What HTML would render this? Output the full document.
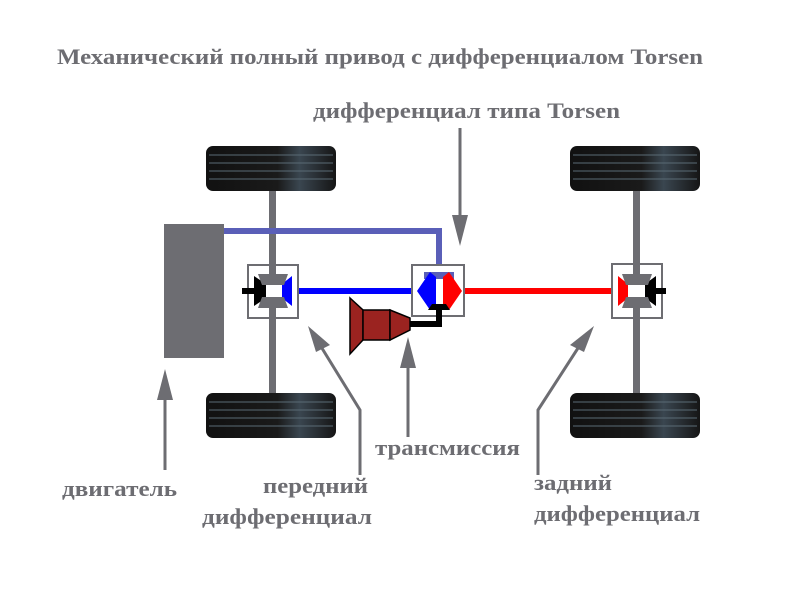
<!DOCTYPE html>
<html><head><meta charset="utf-8"><style>
body{margin:0;background:#fff}
svg{display:block}
text{font-family:"Liberation Serif","DejaVu Serif",serif;font-weight:bold;fill:#6d6d72}
</style></head><body>
<svg width="800" height="600" viewBox="0 0 800 600">
<defs>
<linearGradient id="tg" x1="0" x2="1"><stop offset="0" stop-color="#111"/><stop offset="0.55" stop-color="#1a1a1a"/><stop offset="0.72" stop-color="#3a4650"/><stop offset="1" stop-color="#151515"/></linearGradient>
<g id="tire"><rect x="0" y="0" width="130" height="45" rx="7" fill="url(#tg)"/>
<g stroke="#5a6b75" stroke-width="1"><line x1="3" y1="9" x2="127" y2="9"/><line x1="3" y1="17" x2="127" y2="17"/><line x1="3" y1="25" x2="127" y2="25"/><line x1="3" y1="33" x2="127" y2="33"/></g></g>
</defs>
<text x="57" y="64" font-size="22" textLength="646" lengthAdjust="spacingAndGlyphs">Механический полный привод с дифференциалом Torsen</text>
<text x="313" y="118" font-size="22" textLength="307" lengthAdjust="spacingAndGlyphs">дифференциал типа Torsen</text>
<!-- axles -->
<rect x="269" y="185" width="7" height="215" fill="#6d6d72"/>
<rect x="633" y="185" width="7" height="215" fill="#6d6d72"/>
<use href="#tire" x="206" y="146"/>
<use href="#tire" x="206" y="393"/>
<use href="#tire" x="570" y="146"/>
<use href="#tire" x="570" y="393"/>
<!-- engine -->
<rect x="164" y="224" width="60" height="134" fill="#6d6d72"/>
<polyline points="224,231 439,231 439,272" fill="none" stroke="#5a5fb8" stroke-width="6"/>
<!-- shafts -->
<rect x="290" y="288" width="130" height="6" fill="#0000ff"/>
<rect x="460" y="288" width="160" height="6" fill="#ff0000"/>
<!-- front diff -->
<rect x="248" y="265" width="50" height="53" fill="#fff" stroke="#6d6d72" stroke-width="2"/>
<rect x="269" y="265" width="7" height="53" fill="#6d6d72"/>
<rect x="242" y="288" width="12" height="6" fill="#000"/>
<polygon points="254,276 266,284 266,298 254,306" fill="#000"/>
<polygon points="292,276 282,284 282,298 292,306" fill="#0000ff"/>
<polygon points="258,274 288,274 284,285 262,285" fill="#6d6d72"/>
<polygon points="262,297 284,297 288,308 258,308" fill="#6d6d72"/>
<rect x="266" y="285" width="16" height="12" fill="#fff"/>
<!-- center diff -->
<rect x="412" y="265" width="52" height="51" fill="#fff" stroke="#6d6d72" stroke-width="2"/>
<rect x="424" y="272" width="30" height="7" fill="#5a5fb8"/>
<polygon points="430,272 417,291 430,310 436,305 436,277" fill="#0000ff"/>
<polygon points="449,272 462,291 449,310 443,305 443,277" fill="#ff0000"/>
<polygon points="428,310 450,310 446,304 432,304" fill="#000"/>
<polyline points="439,310 439,324 410,324" fill="none" stroke="#000" stroke-width="6"/>
<!-- transmission -->
<polygon points="350,298 363,310 363,340 350,354" fill="#9b2320" stroke="#000" stroke-width="1.5"/>
<rect x="363" y="310" width="27" height="30" fill="#9b2320" stroke="#000" stroke-width="1.5"/>
<polygon points="390,310 410,318 410,330 390,340" fill="#9b2320" stroke="#000" stroke-width="1.5"/>
<!-- rear diff -->
<rect x="612" y="264" width="50" height="54" fill="#fff" stroke="#6d6d72" stroke-width="2"/>
<rect x="633" y="264" width="7" height="54" fill="#6d6d72"/>
<rect x="656" y="288" width="10" height="6" fill="#000"/>
<polygon points="618,276 628,284 628,298 618,306" fill="#ff0000"/>
<polygon points="656,276 645,284 645,298 656,306" fill="#000"/>
<polygon points="622,274 652,274 648,285 626,285" fill="#6d6d72"/>
<polygon points="626,297 648,297 652,308 622,308" fill="#6d6d72"/>
<rect x="628" y="285" width="17" height="12" fill="#fff"/>
<!-- arrows -->
<g stroke="#6d6d72" stroke-width="3" fill="none">
<line x1="460" y1="128" x2="460" y2="225"/>
<line x1="165" y1="470" x2="165" y2="395"/>
<line x1="408" y1="437" x2="408" y2="360"/>
<polyline points="360,475 360,410 320,345"/>
<polyline points="538,475 538,410 580,345"/>
</g>
<g fill="#6d6d72">
<polygon points="452,215 468,215 460,246"/>
<polygon points="157,400 173,400 165,369"/>
<polygon points="400,368 416,368 408,337"/>
<polygon points="308,326 330,345 316,352"/>
<polygon points="594,326 584,352 570,345"/>
</g>
<text x="62" y="496" font-size="22" textLength="115" lengthAdjust="spacingAndGlyphs">двигатель</text>
<text x="263" y="493" font-size="22" textLength="105" lengthAdjust="spacingAndGlyphs">передний</text>
<text x="202" y="524" font-size="22" textLength="170" lengthAdjust="spacingAndGlyphs">дифференциал</text>
<text x="375" y="455" font-size="22" textLength="145" lengthAdjust="spacingAndGlyphs">трансмиссия</text>
<text x="534" y="490" font-size="22" textLength="78" lengthAdjust="spacingAndGlyphs">задний</text>
<text x="534" y="521" font-size="22" textLength="166" lengthAdjust="spacingAndGlyphs">дифференциал</text>
</svg>
</body></html>
